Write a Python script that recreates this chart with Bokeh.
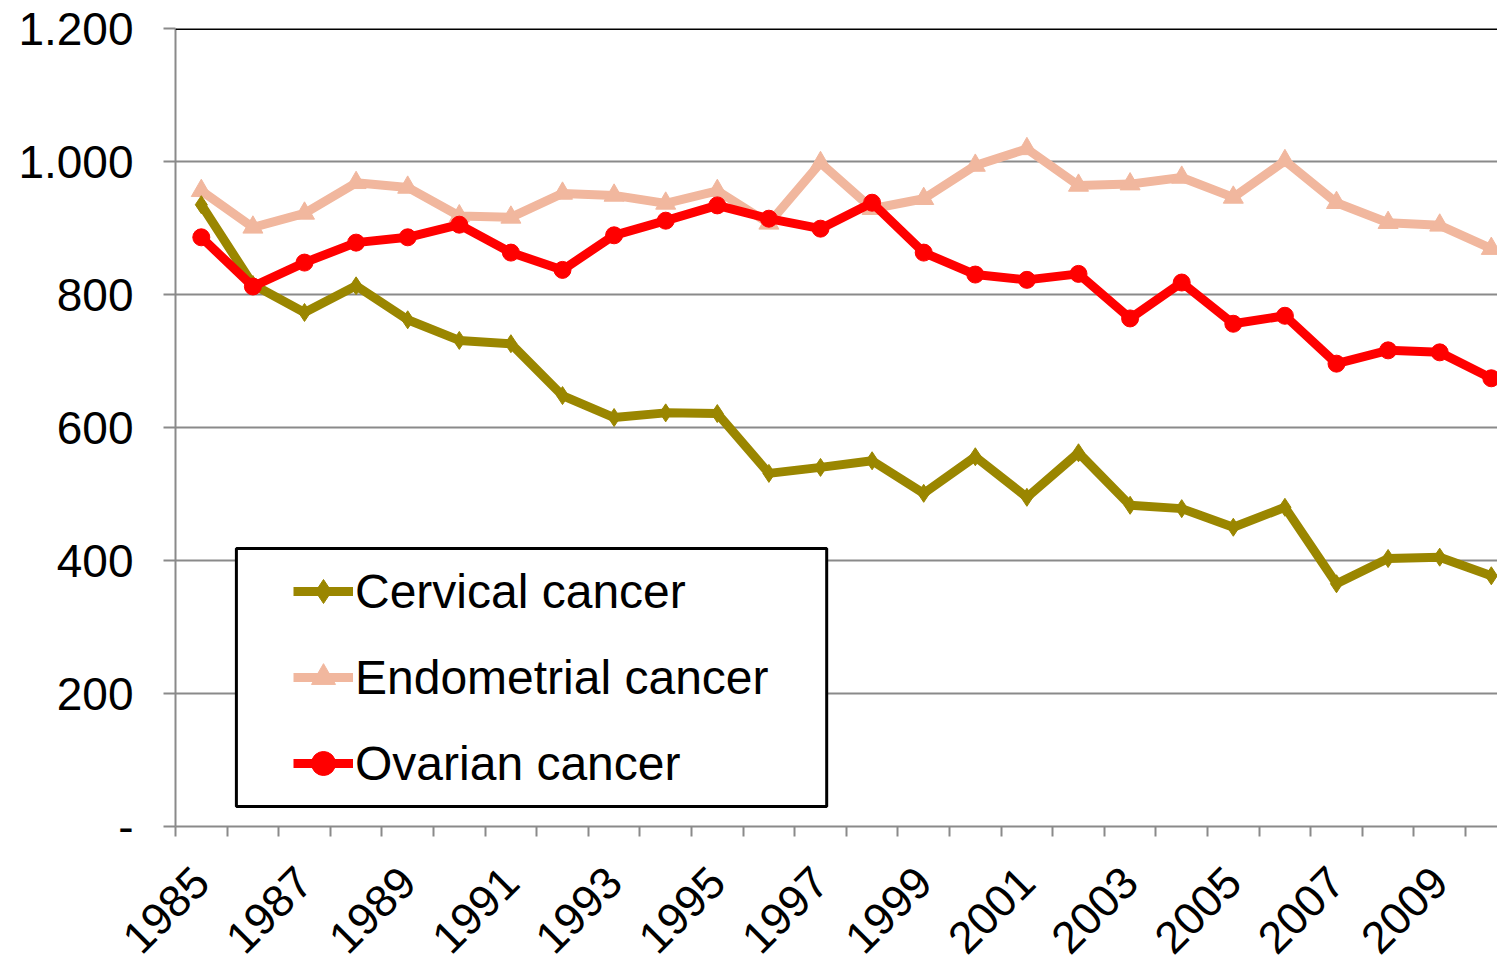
import math
from bokeh.plotting import figure
from bokeh.models import (Range1d, FixedTicker, Legend, LegendItem, BoxAnnotation, Span)
from bokeh.embed import file_html
from bokeh.resources import INLINE

years = list(range(1985, 2011))
cervical = [935, 815, 773, 813, 762, 731, 726, 648, 615, 622,
            621, 531, 540, 550, 501, 556, 495, 562, 483, 478,
            450, 480, 365, 403, 405, 377]
endometrial = [956, 901, 922, 968, 961, 918, 916, 952, 949, 937,
               956, 907, 998, 929, 944, 994, 1019, 964, 966, 976,
               946, 1001, 938, 908, 904, 869]
ovarian = [886, 812, 848, 878, 886, 905, 863, 837, 889, 911,
           934, 914, 899, 938, 863, 830, 822, 831, 764, 818,
           756, 768, 696, 716, 713, 674]

y_ticks = [0, 200, 400, 600, 800, 1000, 1200]
y_labels = {0: "-", 200: "200", 400: "400", 600: "600", 800: "800",
            1000: "1.000", 1200: "1.200"}
x_label_years = list(range(1985, 2011, 2))

FONT = "Liberation Sans"
GRID = "#8a8a8a"

p = figure(frame_width=1322, frame_height=798, output_backend="svg",
           toolbar_location=None, min_border_left=175, min_border_right=0,
           min_border_top=28, min_border_bottom=10,
           x_range=Range1d(1984.5, 1984.5 + 25.62), y_range=Range1d(0, 1200))
p.outline_line_color = None
p.background_fill_color = "white"

# axes
xa = p.xaxis[0]
xa.ticker = FixedTicker(ticks=x_label_years,
                        minor_ticks=[y - 0.5 for y in years])
xa.major_tick_line_color = None
xa.minor_tick_line_color = GRID
xa.minor_tick_line_width = 2
xa.minor_tick_out = 10
xa.minor_tick_in = 0
xa.axis_line_color = GRID
xa.axis_line_width = 2
xa.major_label_orientation = math.pi / 4
xa.major_label_text_font = FONT
xa.major_label_text_font_size = "45px"
xa.major_label_text_color = "black"
xa.major_label_standoff = 38

ya = p.yaxis[0]
ya.ticker = FixedTicker(ticks=y_ticks)
ya.major_label_overrides = y_labels
ya.major_tick_line_color = GRID
ya.major_tick_line_width = 2
ya.major_tick_out = 12
ya.major_tick_in = 0
ya.minor_tick_line_color = None
ya.axis_line_color = GRID
ya.axis_line_width = 2
ya.major_label_text_font = FONT
ya.major_label_text_font_size = "46px"
ya.major_label_text_color = "black"
ya.major_label_standoff = 30

p.xgrid.grid_line_color = None
p.ygrid.ticker = FixedTicker(ticks=y_ticks)
p.ygrid.grid_line_color = GRID
p.ygrid.grid_line_width = 2

p.add_layout(Span(location=1200, dimension="width", line_color="black", line_width=3))

# series
c_col = "#9A8600"
e_col = "#F1B79E"
o_col = "#FF0000"

e_line = p.line(years, endometrial, line_color=e_col, line_width=9, line_join="round")
e_mk = p.scatter(years, endometrial, marker="triangle", size=20,
                 fill_color=e_col, line_color=e_col)
c_line = p.line(years, cervical, line_color=c_col, line_width=9, line_join="round")
c_mk = p.scatter(years, cervical, marker="diamond", size=18,
                 fill_color=c_col, line_color=c_col)
o_line = p.line(years, ovarian, line_color=o_col, line_width=9, line_join="round")
o_mk = p.scatter(years, ovarian, marker="circle", size=17,
                 fill_color=o_col, line_color=o_col)

# legend frame
box = BoxAnnotation(left=1984.5 + 1.18, right=1984.5 + 12.62, bottom=30, top=418,
                    fill_color="white", fill_alpha=1.0,
                    line_color="black", line_alpha=1.0, line_width=3)
p.add_layout(box)

legend = Legend(items=[
    LegendItem(label="Cervical cancer", renderers=[c_line, c_mk]),
    LegendItem(label="Endometrial cancer", renderers=[e_line, e_mk]),
    LegendItem(label="Ovarian cancer", renderers=[o_line, o_mk]),
], location=(118, 33))
legend.border_line_color = None
legend.background_fill_alpha = 0
legend.padding = 0
legend.margin = 0
legend.glyph_width = 60
legend.glyph_height = 60
legend.label_height = 60
legend.spacing = 26
legend.label_standoff = 2
legend.label_text_font = FONT
legend.label_text_font_size = "48px"
legend.label_text_color = "black"
legend.label_text_baseline = "middle"
p.add_layout(legend, "center")

open("out.html", "w").write(file_html(p, INLINE))
